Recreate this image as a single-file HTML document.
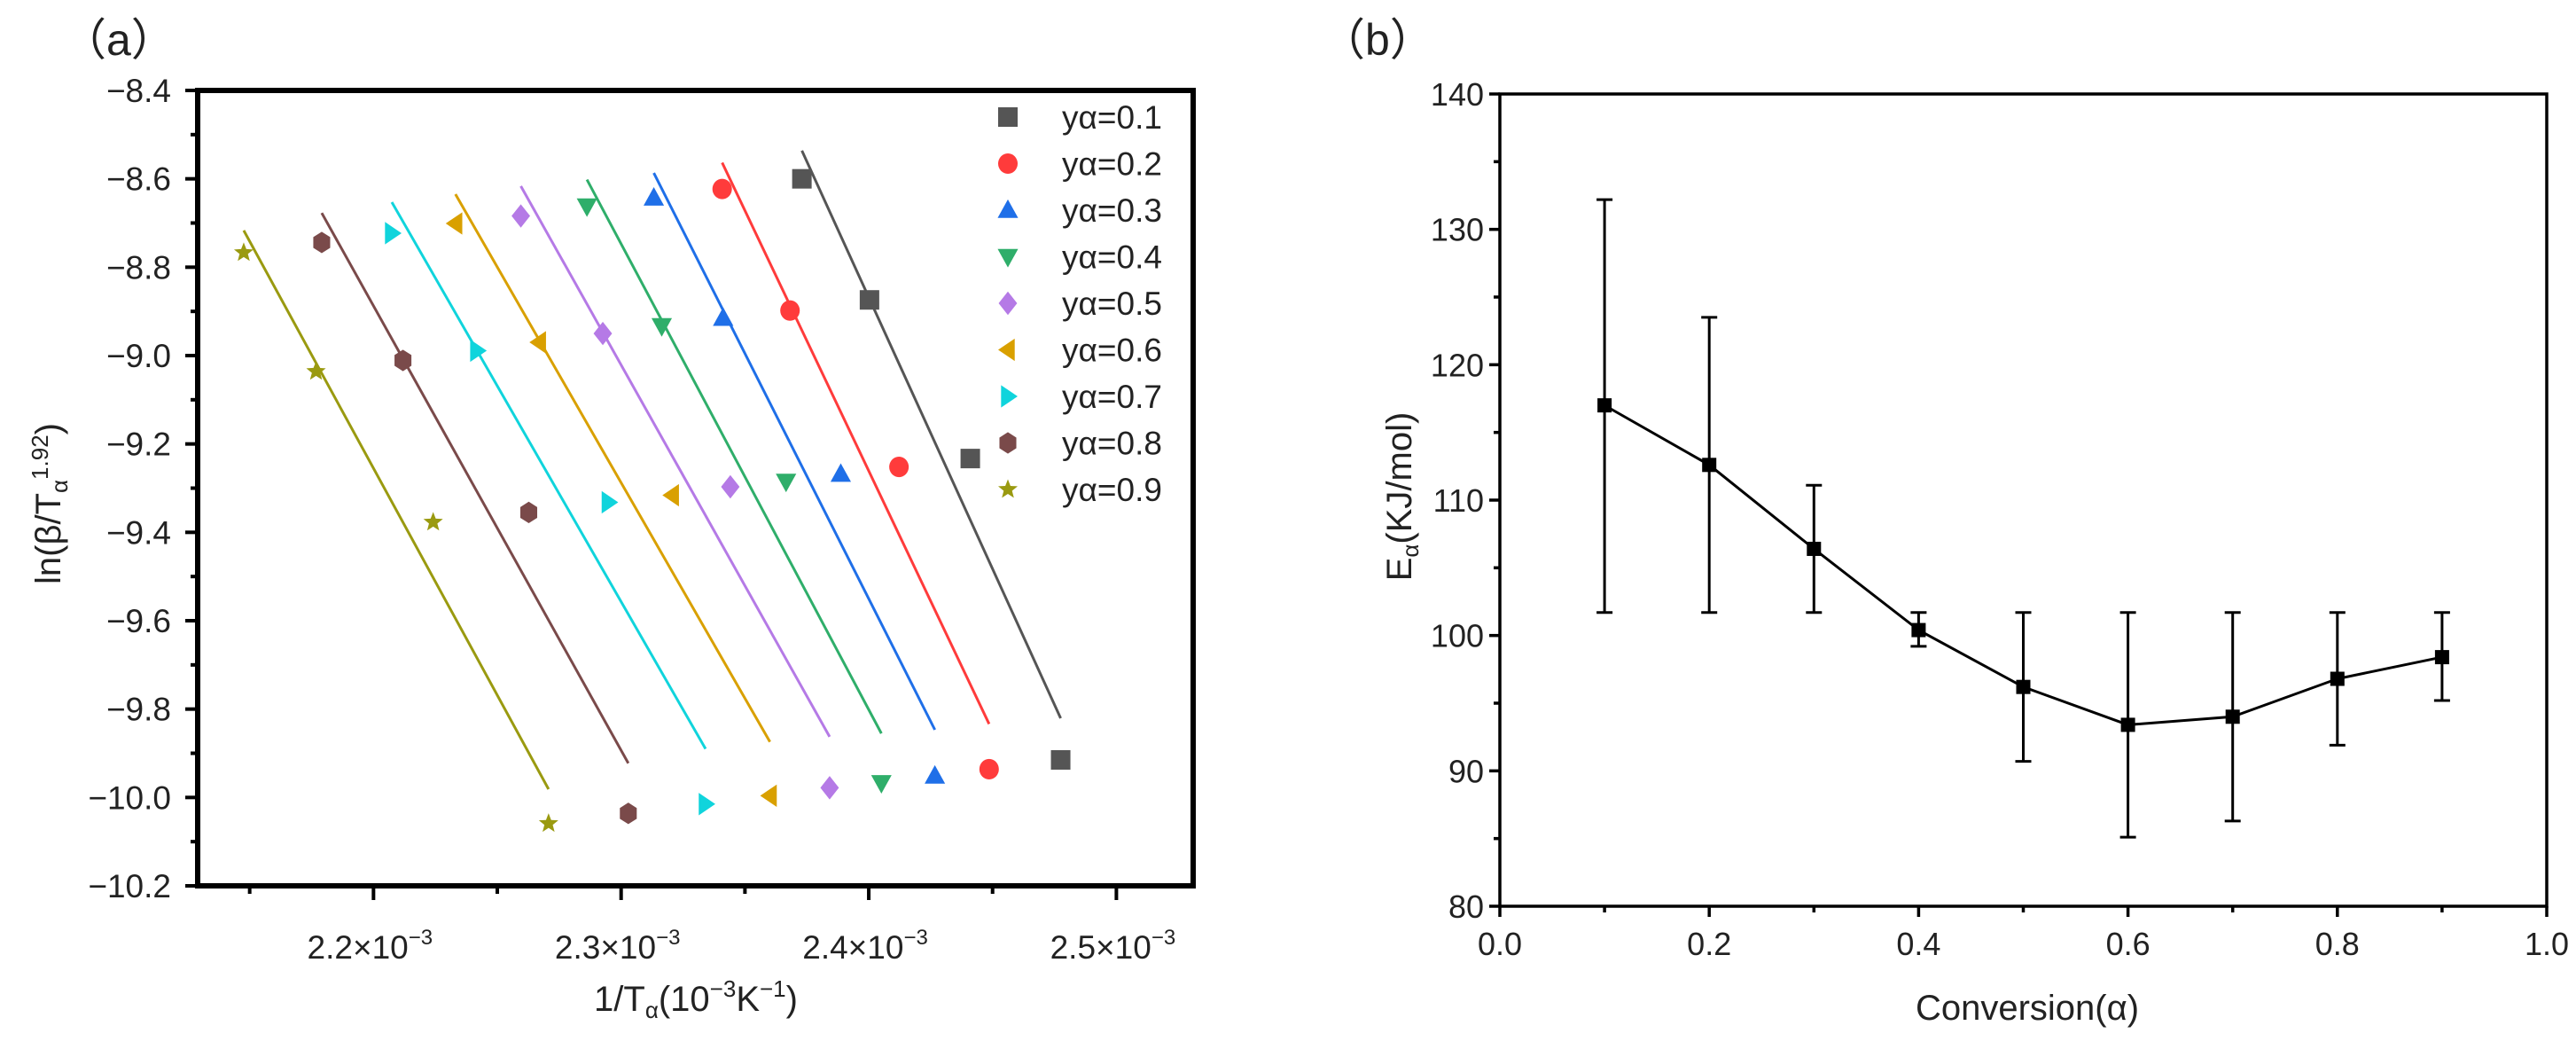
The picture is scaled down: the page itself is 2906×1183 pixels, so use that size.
<!DOCTYPE html>
<html><head><meta charset="utf-8"><style>
html,body{margin:0;padding:0;background:#fff;}
svg{display:block;font-family:"Liberation Sans",sans-serif;}
</style></head><body>
<svg id="fig" width="2906" height="1183" viewBox="0 0 2906 1183" xmlns="http://www.w3.org/2000/svg"></svg>
<script>
// ---- Panel (a) data ----
const seriesLabels = ["yα=0.1","yα=0.2","yα=0.3","yα=0.4","yα=0.5","yα=0.6","yα=0.7","yα=0.8","yα=0.9"];
const seriesColors = ["#555555","#ff3b3b","#1f6fe8","#2fae6a","#b57ae6","#d9a000","#10d4dc","#7a4a4a","#9a9a10"];
const seriesMarkers = ["square","circle","up","down","diamond","left","right","hexagon","star"];
const xA01 = [2.373,2.4003,2.441,2.4775];
const yA01 = [-8.600,-8.874,-9.233,-9.915];
const xA02 = [2.3408,2.3682,2.4122,2.4486];
const yA02 = [-8.623,-8.898,-9.252,-9.936];
const xA03 = [2.3132,2.3412,2.3887,2.4267];
const yA03 = [-8.643,-8.915,-9.268,-9.951];
const xA04 = [2.2862,2.3164,2.3666,2.4051];
const yA04 = [-8.662,-8.933,-9.285,-9.967];
const xA05 = [2.2595,2.2926,2.3441,2.3842];
const yA05 = [-8.684,-8.950,-9.297,-9.978];
const xA06 = [2.2331,2.2669,2.3206,2.3601];
const yA06 = [-8.701,-8.970,-9.316,-9.996];
const xA07 = [2.2074,2.2418,2.2949,2.3341];
const yA07 = [-8.723,-8.989,-9.332,-10.015];
const xA08 = [2.1791,2.2119,2.2627,2.3029];
const yA08 = [-8.744,-9.011,-9.355,-10.036];
const xA09 = [2.1476,2.1768,2.2241,2.2707];
const yA09 = [-8.767,-9.036,-9.377,-10.059];
const xTicksA = [2.2,2.3,2.4,2.5];
const yTicksA = [-8.4,-8.6,-8.8,-9.0,-9.2,-9.4,-9.6,-9.8,-10.0,-10.2];

// ---- Panel (b) data ----
const conversion = [0.1,0.2,0.3,0.4,0.5,0.6,0.7,0.8,0.9];
const energy = [117.0,112.6,106.4,100.4,96.2,93.4,94.0,96.8,98.4];
const errUpper = [132.2,123.5,111.1,101.7,101.7,101.7,101.7,101.7,101.7];
const errLower = [101.7,101.7,101.7,99.2,90.7,85.1,86.3,91.9,95.2];
const xTicksB = [0.0,0.2,0.4,0.6,0.8,1.0];
const yTicksB = [80,90,100,110,120,130,140];

const NS="http://www.w3.org/2000/svg";
const svg=document.getElementById('fig');
function mk(tag,attrs,parent){const e=document.createElementNS(NS,tag);for(const k in attrs)e.setAttribute(k,attrs[k]);(parent||svg).appendChild(e);return e;}

// ===== Panel a =====
const A={l:223,r:1346,t:102,b:999,x0:2.129,x1:2.531,y0:-10.2,y1:-8.4};
const ax=v=>A.l+(v-A.x0)/(A.x1-A.x0)*(A.r-A.l);
const ay=v=>A.b-(v-A.y0)/(A.y1-A.y0)*(A.b-A.t);
const gA=mk('g',{});



function marker(type,cx,cy,s,color,parent){
  let e;const r=s/2;
  if(type==='square') e=mk('rect',{x:cx-r,y:cy-r,width:s,height:s,fill:color},parent);
  else if(type==='circle') e=mk('ellipse',{cx:cx,cy:cy,rx:r,ry:r*1.05,fill:color},parent);
  else if(type==='hexagon'){let p=[];for(let i=0;i<6;i++){const a=Math.PI/6+i*Math.PI/3;p.push((cx+r*Math.cos(a))+','+(cy+r*1.1*Math.sin(a)));}e=mk('polygon',{points:p.join(' '),fill:color},parent);}
  else if(type==='star'){let p=[];for(let i=0;i<10;i++){const a=-Math.PI/2+i*Math.PI/5;const rr=i%2?r*0.45:r*1.05;p.push((cx+rr*Math.cos(a))+','+(cy+rr*Math.sin(a)));}e=mk('polygon',{points:p.join(' '),fill:color},parent);}
  else {let pts;
    if(type==='up') pts=[[cx,cy-r*1.1],[cx+r*1.05,cy+r*0.8],[cx-r*1.05,cy+r*0.8]];
    else if(type==='down') pts=[[cx,cy+r*1.1],[cx+r*1.05,cy-r*0.8],[cx-r*1.05,cy-r*0.8]];
    else if(type==='left') pts=[[cx-r*1.0,cy],[cx+r*0.7,cy-r*1.15],[cx+r*0.7,cy+r*1.15]];
    else if(type==='right') pts=[[cx+r*1.0,cy],[cx-r*0.7,cy-r*1.15],[cx-r*0.7,cy+r*1.15]];
    else pts=[[cx,cy-r*1.2],[cx+r*0.95,cy],[cx,cy+r*1.2],[cx-r*0.95,cy]];
    e=mk('polygon',{points:pts.map(p=>p.join(',')).join(' '),fill:color},parent);}
  return e;
}

const xsA=[xA01,xA02,xA03,xA04,xA05,xA06,xA07,xA08,xA09];
const ysA=[yA01,yA02,yA03,yA04,yA05,yA06,yA07,yA08,yA09];
for(let s=0;s<9;s++){
  const xs=xsA[s],ys=ysA[s],n=xs.length;
  let mx=0,my=0;for(let i=0;i<n;i++){mx+=xs[i];my+=ys[i];}mx/=n;my/=n;
  let sxy=0,sxx=0;for(let i=0;i<n;i++){sxy+=(xs[i]-mx)*(ys[i]-my);sxx+=(xs[i]-mx)**2;}
  const k=sxy/sxx,b=my-k*mx;
  const xa=xs[0],xb=xs[n-1];
  const ln=mk('line',{x1:ax(xa),y1:ay(k*xa+b+0.01),x2:ax(xb),y2:ay(k*xb+b),stroke:seriesColors[s],'stroke-width':3},gA);
  
  
  for(let i=0;i<n;i++){
    const m=marker(seriesMarkers[s],ax(xs[i]),ay(ys[i]),22,seriesColors[s],gA);
    
    
  }
  const ly=132+s*52.5;
  const lm=marker(seriesMarkers[s],1137,ly,22,seriesColors[s],gA);
  
  
  const lt=mk('text',{x:1198,y:ly+13,'font-size':37,fill:'#222'},gA);
  lt.textContent=seriesLabels[s];
  
  
}
const frA=mk('rect',{x:A.l,y:A.t,width:A.r-A.l,height:A.b-A.t,fill:'none',stroke:'#000','stroke-width':6},gA);


yTicksA.forEach(v=>{
  const y=ay(v);
  mk('line',{x1:A.l-14,y1:y,x2:A.l,y2:y,stroke:'#000','stroke-width':4},gA);
  const t=mk('text',{x:193,y:y+13,'font-size':37,'text-anchor':'end',fill:'#222'},gA);
  t.textContent=(v<0?'−':'')+Math.abs(v).toFixed(1);
  
  
});
for(let v=-10.1;v<-8.4;v+=0.2){const y=ay(v);mk('line',{x1:A.l-8,y1:y,x2:A.l,y2:y,stroke:'#000','stroke-width':4},gA);}
xTicksA.forEach(v=>{
  const x=ax(v);
  mk('line',{x1:x,y1:A.b,x2:x,y2:A.b+16,stroke:'#000','stroke-width':4},gA);
  const t=mk('text',{x:x-4,y:A.b+82,'font-size':37,'text-anchor':'middle',fill:'#222'},gA);
  t.textContent=v.toFixed(1)+'×10';
  const sp=mk('tspan',{'font-size':24,dy:-16},t);sp.textContent='−3';
  
  
});
for(let v=2.15;v<2.53;v+=0.1){const x=ax(v);mk('line',{x1:x,y1:A.b,x2:x,y2:A.b+9,stroke:'#000','stroke-width':4},gA);}
const yt=mk('text',{transform:'translate(68,568) rotate(-90)','font-size':40,'text-anchor':'middle',fill:'#222'},gA);
yt.innerHTML='ln(β/T<tspan font-size="26" dy="8">α</tspan><tspan font-size="26" dy="-22">1.92</tspan><tspan dy="14">)</tspan>';


const xt=mk('text',{x:785,y:1140,'font-size':40,'text-anchor':'middle',fill:'#222'},gA);
xt.innerHTML='1/T<tspan font-size="26" dy="8">α</tspan><tspan dy="-8">(10</tspan><tspan font-size="26" dy="-16">−3</tspan><tspan dy="16">K</tspan><tspan font-size="26" dy="-16">−1</tspan><tspan dy="16">)</tspan>';


const la=mk('text',{x:70,y:62,'font-size':50,fill:'#222','font-family':'"Liberation Sans","Noto Sans CJK SC",sans-serif'},gA);
la.textContent='（a）';



// ===== Panel b =====
const B={l:1692,r:2873,t:106,b:1022,x0:0,x1:1,y0:80,y1:140};
const bx=v=>B.l+(v-B.x0)/(B.x1-B.x0)*(B.r-B.l);
const by=v=>B.b-(v-B.y0)/(B.y1-B.y0)*(B.b-B.t);
const gB=mk('g',{});


const frB=mk('rect',{x:B.l,y:B.t,width:B.r-B.l,height:B.b-B.t,fill:'none',stroke:'#000','stroke-width':3.5},gB);


yTicksB.forEach(v=>{
  const y=by(v);
  mk('line',{x1:B.l-12,y1:y,x2:B.l,y2:y,stroke:'#000','stroke-width':3.5},gB);
  const t=mk('text',{x:B.l-18,y:y+13,'font-size':36,'text-anchor':'end',fill:'#222'},gB);
  t.textContent=String(v);
  
  
});
for(let v=85;v<140;v+=10){const y=by(v);mk('line',{x1:B.l-7,y1:y,x2:B.l,y2:y,stroke:'#000','stroke-width':3.5},gB);}
xTicksB.forEach(v=>{
  const x=bx(v);
  mk('line',{x1:x,y1:B.b,x2:x,y2:B.b+12,stroke:'#000','stroke-width':3.5},gB);
  const t=mk('text',{x:x,y:B.b+55,'font-size':36,'text-anchor':'middle',fill:'#222'},gB);
  t.textContent=v.toFixed(1);
  
  
});
for(let v=0.1;v<1;v+=0.2){const x=bx(v);mk('line',{x1:x,y1:B.b,x2:x,y2:B.b+7,stroke:'#000','stroke-width':3.5},gB);}
for(let i=0;i<conversion.length;i++){
  const x=bx(conversion[i]);
  const eb=mk('path',{d:`M${x},${by(errUpper[i])}V${by(errLower[i])}M${x-9},${by(errUpper[i])}H${x+9}M${x-9},${by(errLower[i])}H${x+9}`,stroke:'#000','stroke-width':3,fill:'none'},gB);
  
  
}
const line=mk('polyline',{points:conversion.map((c,i)=>bx(c)+','+by(energy[i])).join(' '),fill:'none',stroke:'#000','stroke-width':3},gB);


for(let i=0;i<conversion.length;i++){
  const p=mk('rect',{x:bx(conversion[i])-8,y:by(energy[i])-8,width:16,height:16,fill:'#000'},gB);
  
  
}
const ytb=mk('text',{transform:'translate(1592,560) rotate(-90)','font-size':40,'text-anchor':'middle',fill:'#222'},gB);
ytb.innerHTML='E<tspan font-size="26" dy="8">α</tspan><tspan dy="-8">(KJ/mol)</tspan>';


const xtb=mk('text',{x:2287,y:1150,'font-size':40,'text-anchor':'middle',fill:'#222'},gB);
xtb.textContent='Conversion(α)';


const lb=mk('text',{x:1490,y:62,'font-size':50,fill:'#222','font-family':'"Liberation Sans","Noto Sans CJK SC",sans-serif'},gB);
lb.textContent='（b）';


</script>
</body></html>
